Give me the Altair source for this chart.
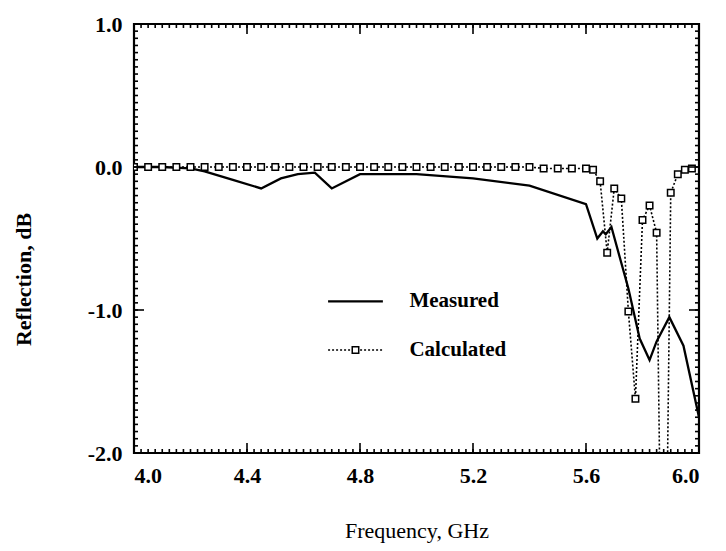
import altair as alt
import pandas as pd

# ---------------- data ----------------
meas_freq = [4.00, 4.10, 4.20, 4.25, 4.35, 4.45, 4.52, 4.58, 4.64, 4.70, 4.80,
             5.00, 5.20, 5.40, 5.60, 5.64, 5.66, 5.67, 5.69, 5.75, 5.79, 5.825,
             5.85, 5.895, 5.945, 6.00]
meas_val = [0.00, 0.00, -0.01, -0.03, -0.09, -0.15, -0.08, -0.05, -0.04, -0.15, -0.05,
            -0.05, -0.08, -0.13, -0.26, -0.50, -0.45, -0.47, -0.42, -0.85, -1.20, -1.35,
            -1.22, -1.05, -1.25, -1.75]

calc_freq = [4.00, 4.05, 4.10, 4.15, 4.20, 4.25, 4.30, 4.35, 4.40, 4.45, 4.50,
             4.55, 4.60, 4.65, 4.70, 4.75, 4.80, 4.85, 4.90, 4.95, 5.00, 5.05,
             5.10, 5.15, 5.20, 5.25, 5.30, 5.35, 5.40, 5.45, 5.50, 5.55, 5.60,
             5.625, 5.65, 5.675, 5.70, 5.725, 5.75, 5.775, 5.80, 5.825, 5.85,
             5.875, 5.90, 5.925, 5.95, 5.975]
calc_val = [0.00, 0.00, 0.00, 0.00, 0.00, 0.00, 0.00, 0.00, 0.00, 0.00, 0.00,
            0.00, 0.00, 0.00, 0.00, 0.00, 0.00, 0.00, 0.00, 0.00, 0.00, 0.00,
            0.00, 0.00, 0.00, 0.00, 0.00, 0.00, 0.00, -0.01, -0.01, -0.01, -0.01,
            -0.02, -0.10, -0.60, -0.15, -0.22, -1.01, -1.62, -0.37, -0.27, -0.46,
            -4.30, -0.18, -0.05, -0.02, -0.01]

x_major = [4.0, 4.4, 4.8, 5.2, 5.6, 6.0]
y_major = [1.0, 0.0, -1.0, -2.0]
x_minor = [round(4.0 + 0.025 * i, 3) for i in range(81)]
y_minor = [round(-2.0 + 0.05 * i, 3) for i in range(61)]

legend_labels = ["Measured", "Calculated"]
legend_y = [-0.94, -1.28]
legend_line_x = [4.687, 4.881]
legend_text_x = 4.975

# ---------------- layout ----------------
W, H = 565, 429
FONT = "Liberation Serif"
MAJ, MIN = 10, 4
HYPHEN_LABEL = "datum.value < 0 ? '-' + format(-datum.value, '.1f') : format(datum.value, '.1f')"

xs = alt.Scale(domain=[4.0, 6.0], nice=False, zero=False)
ys = alt.Scale(domain=[-2.0, 1.0], nice=False, zero=False)

meas_df = pd.DataFrame({"f": meas_freq, "v": meas_val})
calc_df = pd.DataFrame({"f": calc_freq, "v": calc_val})

xaxis = alt.Axis(values=x_major, format=".1f", ticks=False, domain=False, grid=False,
                 labelFont=FONT, labelFontSize=22, labelFontWeight="bold", labelColor="black",
                 labelPadding=12, title="Frequency, GHz", titleFont=FONT, titleFontSize=22,
                 titleFontWeight="normal", titleColor="black", titlePadding=34)
yaxis = alt.Axis(values=y_major, labelExpr=HYPHEN_LABEL, ticks=False, domain=False, grid=False,
                 labelFont=FONT, labelFontSize=22, labelFontWeight="bold", labelColor="black",
                 labelPadding=12, title="Reflection, dB", titleFont=FONT, titleFontSize=22,
                 titleFontWeight="bold", titleColor="black", titleX=-111, titleY=255,
                 titleAngle=270, titleAlign="center", titleBaseline="middle")

calc_line = alt.Chart(calc_df).mark_line(color="black", strokeWidth=1.6, strokeDash=[2, 2],
                                         clip=True).encode(
    x=alt.X("f:Q", scale=xs, axis=xaxis), y=alt.Y("v:Q", scale=ys, axis=yaxis))
meas_line = alt.Chart(meas_df).mark_line(color="black", strokeWidth=2.3, clip=True).encode(
    x=alt.X("f:Q", scale=xs), y=alt.Y("v:Q", scale=ys))
calc_pts = alt.Chart(calc_df).mark_point(shape="square", filled=True, fill="white",
                                         stroke="black", strokeWidth=1.5, size=42,
                                         opacity=1, clip=True).encode(
    x=alt.X("f:Q", scale=xs), y=alt.Y("v:Q", scale=ys))

# ---------------- inward ticks on all four sides ----------------
xmaj_df = pd.DataFrame({"f": x_major})
xmin_df = pd.DataFrame({"f": x_minor})
ymaj_df = pd.DataFrame({"v": y_major})
ymin_df = pd.DataFrame({"v": y_minor})

def xticks(df, length):
    b = alt.Chart(df).mark_rule(color="black", strokeWidth=1.6).encode(
        x=alt.X("f:Q", scale=xs), y=alt.value(H), y2=alt.value(H - length))
    t = alt.Chart(df).mark_rule(color="black", strokeWidth=1.6).encode(
        x=alt.X("f:Q", scale=xs), y=alt.value(0), y2=alt.value(length))
    return [b, t]

def yticks(df, length):
    l = alt.Chart(df).mark_rule(color="black", strokeWidth=1.6).encode(
        y=alt.Y("v:Q", scale=ys), x=alt.value(0), x2=alt.value(length))
    r = alt.Chart(df).mark_rule(color="black", strokeWidth=1.6).encode(
        y=alt.Y("v:Q", scale=ys), x=alt.value(W), x2=alt.value(W - length))
    return [l, r]

tick_layers = xticks(xmin_df, MIN) + xticks(xmaj_df, MAJ) + yticks(ymin_df, MIN) + yticks(ymaj_df, MAJ)

# ---------------- legend ----------------
leg_df = pd.DataFrame({"label": legend_labels, "y": legend_y,
                       "x0": [legend_line_x[0]] * 2, "x1": [legend_line_x[1]] * 2,
                       "xm": [(legend_line_x[0] + legend_line_x[1]) / 2] * 2,
                       "xt": [legend_text_x] * 2})
leg_meas = alt.Chart(leg_df.iloc[[0]]).mark_rule(color="black", strokeWidth=2.3).encode(
    x=alt.X("x0:Q", scale=xs), x2="x1:Q", y=alt.Y("y:Q", scale=ys))
leg_calc = alt.Chart(leg_df.iloc[[1]]).mark_rule(color="black", strokeWidth=1.6,
                                                  strokeDash=[2, 2]).encode(
    x=alt.X("x0:Q", scale=xs), x2="x1:Q", y=alt.Y("y:Q", scale=ys))
leg_pt = alt.Chart(leg_df.iloc[[1]]).mark_point(shape="square", filled=True, fill="white",
                                                stroke="black", strokeWidth=1.5, size=42,
                                                opacity=1).encode(
    x=alt.X("xm:Q", scale=xs), y=alt.Y("y:Q", scale=ys))
leg_txt = alt.Chart(leg_df).mark_text(align="left", baseline="middle", font=FONT,
                                      fontSize=21, fontWeight="bold", color="black").encode(
    x=alt.X("xt:Q", scale=xs), y=alt.Y("y:Q", scale=ys), text="label:N")

chart = alt.layer(calc_line, meas_line, calc_pts, *tick_layers,
                  leg_meas, leg_calc, leg_pt, leg_txt).properties(
    width=W, height=H,
    autosize=alt.AutoSizeParams(type="none"),
    padding={"left": 126, "top": 16, "right": 19, "bottom": 90},
    background="white",
).configure_view(stroke="black", strokeWidth=2.2)

chart.save("out.html", embed_options={"renderer": "svg", "actions": False})
